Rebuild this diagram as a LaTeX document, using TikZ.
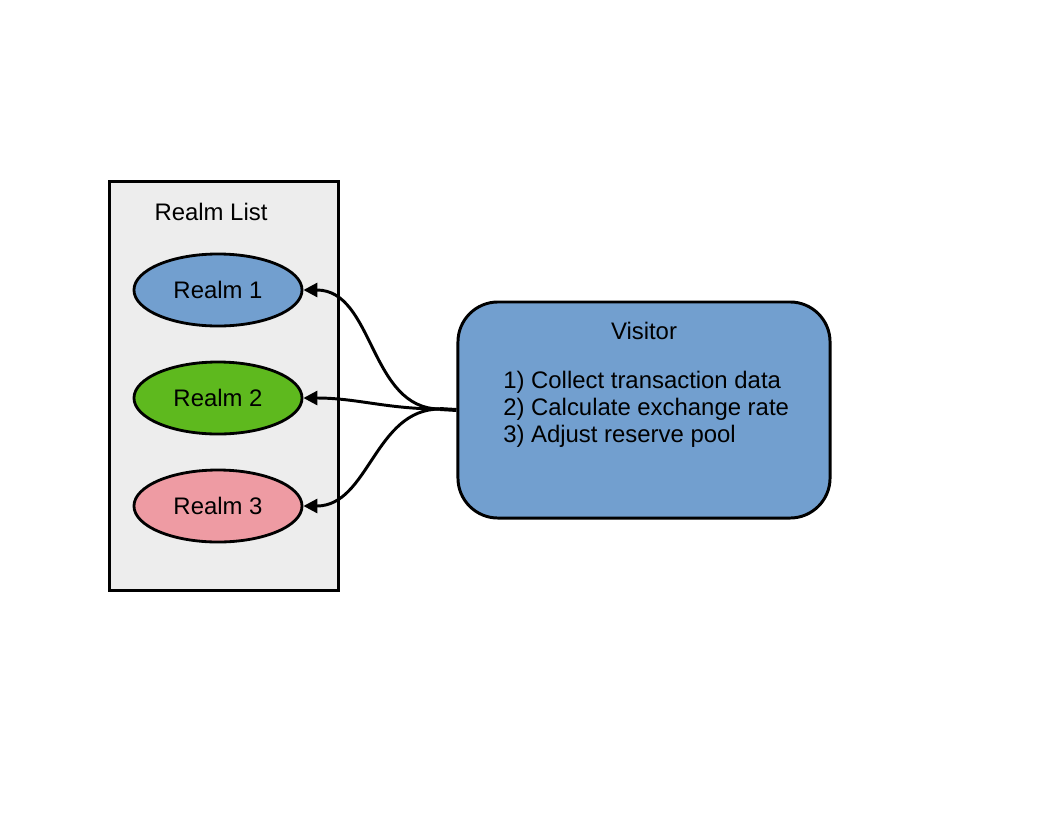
\documentclass[tikz,border=0pt]{standalone}
\usepackage{fontspec}
\setmainfont{Liberation Sans}
\usetikzlibrary{shapes.geometric, arrows.meta, positioning}

\definecolor{listgray}{HTML}{EDEDED}
\definecolor{realmblue}{HTML}{729FCF}
\definecolor{realmgreen}{HTML}{5EB91E}
\definecolor{realmpink}{HTML}{EE9BA3}

\tikzset{
    realm/.style = {ellipse, draw, line width=2pt, minimum width=4.2cm,
                    minimum height=1.8cm, inner sep=0pt},
    link/.style  = {line width=2.1pt}
}

\begin{document}
\begin{tikzpicture}[x=0.025cm, y=-0.025cm, font=\fontsize{17}{20}\selectfont]
    \useasboundingbox (0,0) rectangle (1056,816);

    \node (list) [draw, line width=2.1pt, fill=listgray, minimum width=5.7cm, minimum height=10.2cm] at (224,386) {};
    \node (title) [anchor=base] at (211,220) {Realm List};

    \node (r1) [realm, fill=realmblue]  at (218,290) {Realm 1};
    \node (r2) [realm, fill=realmgreen] at (218,398) {Realm 2};
    \node (r3) [realm, fill=realmpink]  at (218,506) {Realm 3};

    \node (vis) [draw, line width=2.1pt, fill=realmblue, rounded corners=1cm, minimum width=9.3cm, minimum height=5.4cm] at (644,410) {};
    \node (vtitle) [anchor=base] at (644,339) {Visitor};
    \node (s1) [anchor=base west, inner sep=0pt] at (503,388) {1) Collect transaction data};
    \node (s2) [anchor=base west, inner sep=0pt] at (503,415) {2) Calculate exchange rate};
    \node (s3) [anchor=base west, inner sep=0pt] at (503,442) {3) Adjust reserve pool};

    \coordinate (fork) at (440,409);

\draw [link, line width=2.8pt] (vis.west) -- (fork);
\path [link, -{Triangle[length=10pt, width=10pt]}]
    (fork) edge [out=180, in=0] (r1)
    (fork) edge [out=180, in=0] (r2)
    (fork) edge [out=180, in=0] (r3);

\end{tikzpicture}
\end{document}
